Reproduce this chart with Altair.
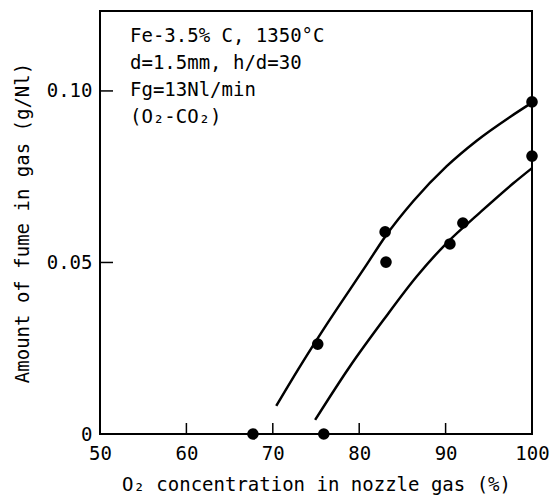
import altair as alt
import pandas as pd

# measured points
pts_x = [67.7, 75.9, 75.2, 83.0, 83.1, 90.5, 92.0, 100.0, 100.0]
pts_y = [0.0, 0.0, 0.0262, 0.0589, 0.0501, 0.0554, 0.0615, 0.0968, 0.0810]

# upper fitted curve
up_x = [70.4, 73.1, 76.2, 80.9, 83.0, 86.3, 90.1, 93.6, 97.5, 100.0]
up_y = [0.0082, 0.0195, 0.0318, 0.0495, 0.0575, 0.0680, 0.0780, 0.0855, 0.0925, 0.0966]

# lower fitted curve
lo_x = [74.9, 78.9, 82.8, 86.65, 90.1, 94.0, 97.8, 100.0]
lo_y = [0.0041, 0.0196, 0.0332, 0.0459, 0.0556, 0.0646, 0.0730, 0.0775]

x_ticks = [60, 70, 80, 90]
y_ticks = [0.05, 0.10]
x_labels = [50, 60, 70, 80, 90, 100]
y_labels = [0, 0.05, 0.10]

note_lines = ["Fe-3.5% C, 1350°C", "d=1.5mm, h/d=30", "Fg=13Nl/min", "(O₂-CO₂)"]

FONT = "DejaVu Sans Mono"
W, H = 432, 423

pts = pd.DataFrame({"x": pts_x, "y": pts_y})
curves = pd.DataFrame(
    {"x": up_x + lo_x, "y": up_y + lo_y,
     "curve": ["upper"] * len(up_x) + ["lower"] * len(lo_x)}
)

xs = alt.Scale(domain=[50, 100], nice=False, zero=False)
ys = alt.Scale(domain=[0, 0.1233], nice=False)

xaxis = alt.Axis(values=x_labels, ticks=False, domain=False, grid=False,
                 labelFont=FONT, labelFontSize=19, labelColor="black", labelPadding=10,
                 title="O₂ concentration in nozzle gas (%)", titleFont=FONT,
                 titleFontSize=19, titleFontWeight="normal", titleColor="black",
                 titlePadding=12, labelFlush=False)
yaxis = alt.Axis(values=y_labels, ticks=False, domain=False, grid=False,
                 labelFont=FONT, labelFontSize=19, labelColor="black", labelPadding=8,
                 labelExpr="datum.value == 0 ? '0' : format(datum.value, '.2f')",
                 title="Amount of fume in gas (g/Nl)", titleFont=FONT,
                 titleFontSize=19, titleFontWeight="normal", titleColor="black",
                 titlePadding=14, labelFlush=False)

lines = alt.Chart(curves).mark_line(color="black", strokeWidth=2.5, interpolate="monotone").encode(
    x=alt.X("x:Q", scale=xs, axis=xaxis),
    y=alt.Y("y:Q", scale=ys, axis=yaxis),
    detail="curve:N",
)

points = alt.Chart(pts).mark_circle(color="black", opacity=1, size=135, clip=False).encode(
    x=alt.X("x:Q", scale=xs),
    y=alt.Y("y:Q", scale=ys),
)

xt = alt.Chart(pd.DataFrame({"v": x_ticks})).mark_rule(color="black", strokeWidth=1.5).encode(
    x=alt.X("v:Q", scale=xs),
    y=alt.value(H),
    y2=alt.value(H - 11),
)
yt = alt.Chart(pd.DataFrame({"v": y_ticks})).mark_rule(color="black", strokeWidth=1.5).encode(
    y=alt.Y("v:Q", scale=ys),
    x=alt.value(0),
    x2=alt.value(13),
)

note = alt.Chart(pd.DataFrame({"t": [note_lines]})).mark_text(
    font=FONT, fontSize=19, align="left", baseline="alphabetic", lineHeight=27, color="black"
).encode(
    text="t",
    x=alt.value(30),
    y=alt.value(31),
)

chart = alt.layer(lines, points, xt, yt, note).properties(
    width=W, height=H,
    autosize=alt.AutoSizeParams(type="none"),
    padding={"left": 100, "top": 11, "right": 21, "bottom": 61},
    background="white",
).configure_view(stroke="black", strokeWidth=2)

chart.save("out.html", embed_options={"renderer": "svg", "actions": False})
